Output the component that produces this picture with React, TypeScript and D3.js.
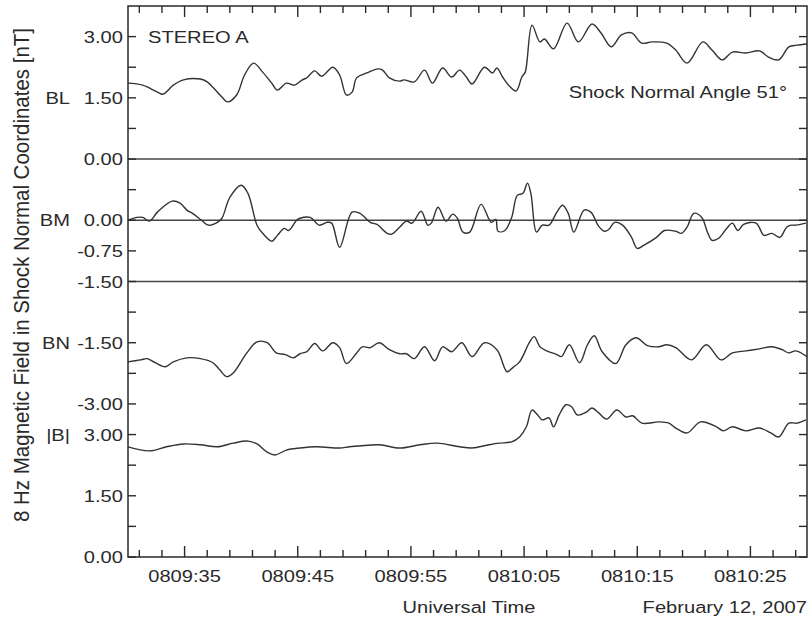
import React from "react";
import * as d3 from "d3";

// time in seconds after 08:09:00 UT
const BL_TIME = [30.0,31.3,32.6,33.1,34.0,34.9,36.4,37.0,37.5,38.3,38.8,39.6,40.3,41.1,41.9,42.7,43.2,44.0,44.7,45.4,45.8,46.5,47.1,48.1,48.7,49.3,49.8,50.2,51.1,52.1,52.5,53.1,54.0,54.4,55.3,56.2,56.9,57.8,58.6,59.3,59.9,60.4,61.5,62.2,62.6,63.1,63.7,64.3,64.8,65.1,65.7,66.4,66.8,67.6,68.8,69.8,71.0,71.8,72.7,73.6,74.5,75.4,76.3,77.6,78.4,79.4,80.8,81.6,82.5,83.4,84.6,85.8,86.6,87.5,88.4,89.1,90.0];
const BL_VALUES = [1.86,1.81,1.64,1.59,1.81,1.94,1.96,1.89,1.76,1.52,1.40,1.57,2.06,2.35,2.13,1.86,1.69,1.86,1.81,1.94,1.99,2.16,2.03,2.25,2.06,1.57,1.64,1.99,2.11,2.21,2.18,1.99,1.91,1.94,1.89,2.18,1.86,2.23,2.01,2.18,2.01,1.84,2.25,2.11,2.23,2.01,1.79,1.67,2.01,2.13,3.28,2.87,2.94,2.70,3.33,2.87,3.31,3.09,2.75,3.04,3.09,2.84,2.87,2.84,2.67,2.35,2.87,2.67,2.43,2.62,2.60,2.65,2.50,2.43,2.75,2.79,2.82];

const BM_TIME = [30.0,30.8,31.3,31.9,32.6,33.9,34.6,35.2,35.7,36.5,37.1,37.9,38.3,39.0,40.0,40.6,41.4,41.9,42.7,43.2,43.8,44.2,44.9,45.2,46.1,46.9,47.6,48.0,48.7,49.8,50.5,51.4,52.0,52.9,53.3,54.0,54.6,55.1,55.9,56.5,56.8,57.4,58.1,58.7,59.1,59.6,60.2,61.2,62.1,62.5,62.7,63.3,63.9,64.4,64.9,65.3,65.6,66.1,66.6,67.2,67.9,68.4,68.9,69.4,70.3,70.9,71.6,72.1,72.5,73.0,73.7,74.5,75.0,75.6,76.7,77.4,78.4,78.9,79.4,80.0,80.7,81.2,81.6,82.2,82.9,83.4,83.9,84.4,85.5,86.2,86.9,87.6,88.2,88.6,89.0,89.9];
const BM_VALUES = [0.00,0.07,0.07,-0.02,0.20,0.47,0.42,0.25,0.17,0.00,-0.12,-0.05,0.05,0.56,0.86,0.66,-0.12,-0.32,-0.51,-0.37,-0.20,-0.25,0.00,0.05,0.07,-0.12,-0.05,-0.07,-0.66,0.20,0.17,-0.05,-0.10,-0.32,-0.34,-0.17,-0.02,-0.07,0.22,-0.12,-0.07,0.32,-0.02,0.15,0.05,-0.29,-0.29,0.39,-0.05,0.02,-0.27,-0.25,0.07,0.61,0.66,0.91,0.66,-0.29,-0.12,-0.12,0.20,0.37,0.17,-0.29,0.25,0.20,-0.15,-0.27,-0.22,-0.05,-0.12,-0.42,-0.69,-0.61,-0.42,-0.25,-0.27,-0.32,-0.17,0.17,0.07,-0.29,-0.49,-0.44,-0.20,-0.07,-0.25,-0.10,-0.07,-0.37,-0.32,-0.42,-0.17,-0.12,-0.12,-0.07];

const BN_TIME = [30.0,31.1,31.7,32.4,33.3,34.0,35.2,36.4,37.5,38.1,38.7,39.3,40.5,41.4,42.3,43.1,43.9,44.6,45.2,45.8,46.5,47.2,48.1,48.7,49.3,50.2,50.7,51.4,52.2,53.1,54.0,54.6,55.3,56.2,57.1,57.8,58.6,59.5,60.4,61.5,62.6,63.5,64.0,64.6,65.5,65.9,66.4,67.0,67.9,68.3,69.0,69.9,70.6,71.2,71.9,73.1,74.0,74.9,75.9,76.9,77.6,78.4,79.8,81.1,82.4,83.4,84.6,85.8,86.9,87.8,88.4,89.0,90.0];
const BN_VALUES = [-1.97,-1.92,-1.89,-1.99,-2.09,-1.97,-1.87,-1.89,-1.99,-2.16,-2.33,-2.24,-1.75,-1.48,-1.50,-1.75,-1.79,-1.87,-1.77,-1.72,-1.52,-1.70,-1.50,-1.62,-2.01,-1.75,-1.60,-1.62,-1.50,-1.67,-1.77,-1.77,-1.89,-1.60,-1.94,-1.60,-1.72,-1.50,-1.84,-1.50,-1.67,-2.21,-2.11,-1.97,-1.48,-1.35,-1.60,-1.70,-1.79,-1.84,-1.55,-1.99,-1.55,-1.33,-1.72,-2.01,-1.55,-1.38,-1.57,-1.60,-1.55,-1.62,-1.92,-1.55,-1.92,-1.75,-1.70,-1.65,-1.60,-1.67,-1.75,-1.70,-1.84];

const B_TIME = [30.0,31.9,33.4,34.9,36.4,37.9,39.3,40.6,41.4,42.3,43.0,44.0,45.2,46.7,48.7,49.6,52.2,54.0,55.8,57.3,59.3,60.4,61.9,62.8,63.9,64.6,65.2,65.7,66.2,66.6,67.2,67.6,68.1,68.7,69.2,69.7,70.5,71.0,71.6,72.3,73.2,74.0,74.6,75.4,76.9,77.8,78.4,79.4,80.6,82.0,82.6,83.4,84.6,85.8,86.8,87.5,88.4,89.1,89.9];
const B_VALUES = [2.70,2.60,2.70,2.77,2.75,2.70,2.79,2.84,2.77,2.57,2.50,2.62,2.67,2.70,2.67,2.70,2.75,2.67,2.75,2.79,2.70,2.67,2.75,2.79,2.82,2.94,3.19,3.60,3.48,3.36,3.41,3.19,3.48,3.73,3.68,3.48,3.55,3.65,3.53,3.38,3.60,3.43,3.46,3.28,3.31,3.28,3.16,3.04,3.31,3.19,3.09,3.19,3.09,3.16,3.04,2.94,3.28,3.28,3.36];

const X_MAJOR_TICKS = [35, 45, 55, 65, 75, 85];
const X_TICK_LABELS = ["0809:35", "0809:45", "0809:55", "0810:05", "0810:15", "0810:25"];
const X_MINOR_TICKS = [31,33,37,39,41,43,47,49,51,53,57,59,61,63,67,69,71,73,77,79,81,83,87,89];

const PANEL_NAMES = ["BL", "BM", "BN", "|B|"];
// value domains mapped onto the stacked index axis
const PANEL_DOMAINS = [[0, 3], [-1.5, 0], [-3, -1.5], [0, 3]];
const PANEL_INDEX = [[13, 17], [9, 11], [5, 7], [0, 4]];
const PANEL_LABEL_VALUE = [1.5, 0, -1.5, 3];
const PANEL_MAJOR_TICKS = [[0, 1.5, 3], [-1.5, -0.75, 0], [-3, -1.5], [0, 1.5, 3]];
const PANEL_MINOR_TICKS = [[0.75, 2.25], [0.75], [-2.25, -0.75], [0.75, 2.25]];
const PANEL_ZERO_LINES = [[0], [0, -1.5], [], []];

const W = 809, H = 620;
const L = 128, R = 807, TOP = 6, BOT = 557;
const SX = 1.22;
const FONT = "'Liberation Sans', Arial, Helvetica, sans-serif";
const INK = "#2a2a2a";

const T = ({ x, y, anchor = "start", size = 16.5, children }: any) => (
  <text transform={`translate(${x},${y}) scale(${SX},1)`} textAnchor={anchor} fontSize={size} fill={INK} fontFamily={FONT}>
    {children}
  </text>
);

export default function App() {
  const x = d3.scaleLinear().domain([30, 90]).range([L, R]);
  const idx = d3.scaleLinear().domain([0, 18]).range([BOT, TOP]);
  const ys = PANEL_DOMAINS.map((dom, i) =>
    d3.scaleLinear().domain(dom).range([idx(PANEL_INDEX[i][0]), idx(PANEL_INDEX[i][1])])
  );
  const series = [
    [BL_TIME, BL_VALUES],
    [BM_TIME, BM_VALUES],
    [BN_TIME, BN_VALUES],
    [B_TIME, B_VALUES],
  ];
  const paths = series.map(([ts, vs], i) => {
    const line = d3
      .line<number>()
      .x((_, k) => x(ts[k]))
      .y((v) => ys[i](v))
      .curve(d3.curveCatmullRom.alpha(0.5));
    return line(vs as number[]) || "";
  });

  return (
    <svg width={W} height={H} style={{ position: "absolute", left: 0, top: 0, background: "#fff" }}>
      {/* horizontal separator lines */}
      {PANEL_ZERO_LINES.map((vals, i) =>
        vals.map((v) => (
          <line key={`z${i}-${v}`} x1={L} x2={R} y1={ys[i](v)} y2={ys[i](v)} stroke="#444" strokeWidth={1.4} />
        ))
      )}
      {/* data */}
      {paths.map((d, i) => (
        <path key={`p${i}`} d={d} fill="none" stroke="#333" strokeWidth={1.4} strokeLinejoin="round" />
      ))}
      {/* frame */}
      <rect x={L} y={TOP} width={R - L} height={BOT - TOP} fill="none" stroke={INK} strokeWidth={1.5} />
      {/* x ticks */}
      {X_MAJOR_TICKS.map((t) => (
        <g key={`xm${t}`}>
          <line x1={x(t)} x2={x(t)} y1={BOT} y2={BOT - 11} stroke={INK} strokeWidth={1.4} />
          <line x1={x(t)} x2={x(t)} y1={TOP} y2={TOP + 11} stroke={INK} strokeWidth={1.4} />
        </g>
      ))}
      {X_MINOR_TICKS.map((t) => (
        <g key={`xn${t}`}>
          <line x1={x(t)} x2={x(t)} y1={BOT} y2={BOT - 7} stroke={INK} strokeWidth={1.4} />
          <line x1={x(t)} x2={x(t)} y1={TOP} y2={TOP + 7} stroke={INK} strokeWidth={1.4} />
        </g>
      ))}
      {X_MAJOR_TICKS.map((t, i) => (
        <T key={`xl${t}`} x={x(t)} y={582} anchor="middle">
          {X_TICK_LABELS[i]}
        </T>
      ))}
      {/* y ticks */}
      {PANEL_MAJOR_TICKS.map((vals, i) =>
        vals.map((v) => (
          <g key={`ym${i}-${v}`}>
            <line x1={L} x2={L + 8} y1={ys[i](v)} y2={ys[i](v)} stroke={INK} strokeWidth={1.4} />
            <line x1={R} x2={R - 8} y1={ys[i](v)} y2={ys[i](v)} stroke={INK} strokeWidth={1.4} />
            <T x={L - 5} y={ys[i](v) + 6} anchor="end">
              {d3.format(".2f")(v).replace("−", "-")}
            </T>
          </g>
        ))
      )}
      {PANEL_MINOR_TICKS.map((vals, i) =>
        vals.map((v) => (
          <g key={`yn${i}-${v}`}>
            <line x1={L} x2={L + 8} y1={ys[i](v)} y2={ys[i](v)} stroke={INK} strokeWidth={1.4} />
            <line x1={R} x2={R - 8} y1={ys[i](v)} y2={ys[i](v)} stroke={INK} strokeWidth={1.4} />
          </g>
        ))
      )}
      {PANEL_NAMES.map((n, i) => (
        <T key={`pn${i}`} x={70} y={ys[i](PANEL_LABEL_VALUE[i]) + 6} anchor="end">
          {n}
        </T>
      ))}
      {/* annotations */}
      <T x={148} y={43}>STEREO A</T>
      <T x={787} y={98} anchor="end">
        Shock Normal Angle 51°
      </T>
      <T x={469} y={613} anchor="middle">Universal Time</T>
      <T x={807} y={613} anchor="end">February 12, 2007</T>
      <text
        transform={`translate(29,275) scale(1.1,1) rotate(-90)`}
        textAnchor="middle"
        fontSize={20.5}
        fill={INK}
        fontFamily={FONT}
      >
        8 Hz Magnetic Field in Shock Normal Coordinates [nT]
      </text>
    </svg>
  );
}
